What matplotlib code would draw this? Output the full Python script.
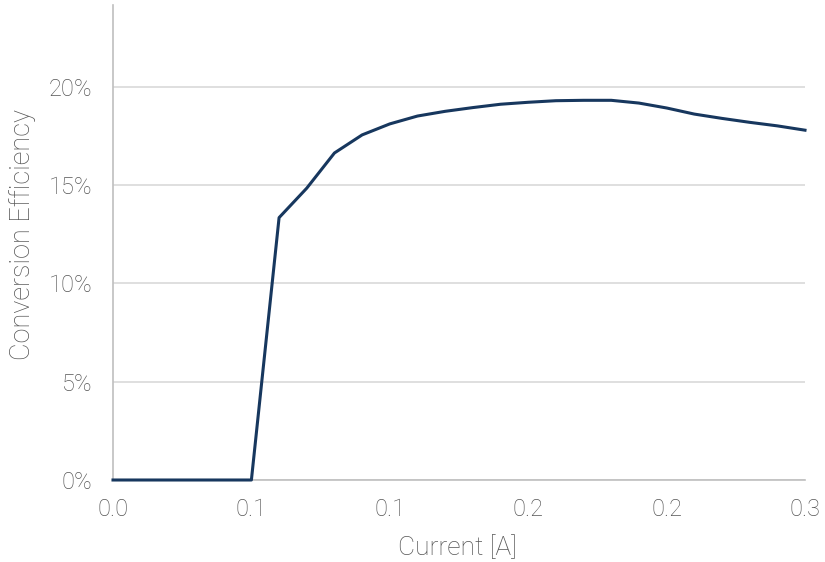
import matplotlib
matplotlib.use("Agg")
import matplotlib.pyplot as plt

current = [0.0, 0.012, 0.024, 0.036, 0.048, 0.06, 0.072, 0.084, 0.096, 0.108, 0.12,
           0.132, 0.144, 0.156, 0.168, 0.18, 0.192, 0.204, 0.216, 0.228, 0.24,
           0.252, 0.264, 0.276, 0.288, 0.3]
efficiency = [0.0, 0.0, 0.0, 0.0, 0.0, 0.0, 0.1335, 0.1485, 0.1664, 0.1756, 0.1812,
              0.1852, 0.1876, 0.1895, 0.1912, 0.1922, 0.1930, 0.1932, 0.1932, 0.1918, 0.1893,
              0.1862, 0.1840, 0.1820, 0.1802, 0.1780]
xticks = [0.0, 0.06, 0.12, 0.18, 0.24, 0.3]
xtick_labels = ["0.0", "0.1", "0.1", "0.2", "0.2", "0.3"]
yticks = [0.0, 0.05, 0.10, 0.15, 0.20]
ytick_labels = ["0%", "5%", "10%", "15%", "20%"]

plt.rcParams['font.family'] = ['Roboto', 'DejaVu Sans']
text_color = '#555555'

W, H = 825, 562
fig = plt.figure(figsize=(W/100, H/100), dpi=100)
ax = fig.add_axes([113/W, 1 - 480/H, (805-113)/W, (480-5)/H])

ax.plot(current, efficiency, color='#17375E', linewidth=2.2, solid_joinstyle='round', zorder=3, clip_on=False)

ax.set_xlim(0, 0.3)
ax.set_ylim(0, 0.2417)
ax.set_xticks(xticks)
ax.set_xticklabels(xtick_labels)
ax.set_yticks(yticks)
ax.set_yticklabels(ytick_labels)

ax.grid(axis='y', color='#d9d9d9', linewidth=1.2)
ax.set_axisbelow(True)
for s in ['top', 'right']:
    ax.spines[s].set_visible(False)
for s in ['left', 'bottom']:
    ax.spines[s].set_color('#bfbfbf')
    ax.spines[s].set_linewidth(1.2)

ax.tick_params(axis='both', length=0, labelsize=17, colors=text_color)
ax.tick_params(axis='x', pad=13)
ax.tick_params(axis='y', pad=15)
for lab in ax.get_xticklabels() + ax.get_yticklabels():
    lab.set_fontweight('light')

fig.text(457/W, 1 - 555/H, 'Current [A]', fontsize=19, color=text_color, fontweight='light',
         ha='center', va='baseline')
fig.text(30/W, 1 - 234.5/H, 'Conversion Efficiency', fontsize=19.5, color=text_color, fontweight='light',
         ha='center', va='baseline', rotation=90, rotation_mode='anchor')

fig.savefig('out.png', dpi=100)
